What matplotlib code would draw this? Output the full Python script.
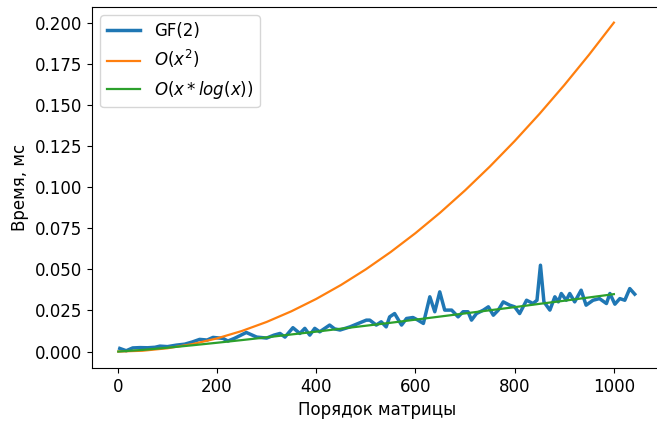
import matplotlib
matplotlib.use("Agg")
import matplotlib.pyplot as plt

# GF(2) measured times (ms) vs matrix order
gf_x = [4, 17, 30, 45, 60, 75, 85, 100, 118, 135, 150, 165, 180, 192, 212, 222, 235,
        259, 280, 300, 315, 327, 337, 353, 367, 377, 387, 397, 407, 427, 437, 448, 468,
        488, 501, 508, 521, 531, 541, 548, 558, 572, 582, 595, 605, 616, 629, 639, 649,
        659, 673, 686, 696, 706, 713, 723, 737, 747, 757, 767, 777, 790, 800, 810, 824,
        837, 845, 852, 859, 871, 881, 888, 894, 904, 911, 921, 934, 944, 958, 971, 985,
        992, 1002, 1012, 1022, 1032, 1042]
gf_y = [0.0019, 0.0005, 0.0022, 0.0024, 0.0023, 0.0026, 0.0033, 0.0030, 0.0039, 0.0045,
        0.0058, 0.0074, 0.0070, 0.0086, 0.0080, 0.0064, 0.0080, 0.0116, 0.0088, 0.0082,
        0.0100, 0.0110, 0.0088, 0.0145, 0.0110, 0.0141, 0.0100, 0.0141, 0.0120, 0.0161,
        0.0138, 0.0131, 0.0150, 0.0175, 0.0191, 0.0191, 0.0161, 0.0181, 0.0150, 0.0211,
        0.0231, 0.0161, 0.0201, 0.0207, 0.0191, 0.0171, 0.0333, 0.0242, 0.0363, 0.0252,
        0.0252, 0.0211, 0.0242, 0.0242, 0.0191, 0.0231, 0.0252, 0.0272, 0.0221, 0.0252,
        0.0302, 0.0282, 0.0272, 0.0231, 0.0312, 0.0292, 0.0312, 0.0525, 0.0302, 0.0252,
        0.0333, 0.0302, 0.0353, 0.0312, 0.0353, 0.0302, 0.0373, 0.0282, 0.0312, 0.0322,
        0.0292, 0.0353, 0.0288, 0.0322, 0.0312, 0.0383, 0.0349]

# Reference curves
ref_x = [1, 50, 100, 150, 200, 250, 300, 350, 400, 450, 500, 550, 600, 650, 700, 750,
         800, 850, 900, 950, 1000]
sq_y = [0.0, 0.0005, 0.002, 0.0045, 0.008, 0.0125, 0.018, 0.0245, 0.032, 0.0405, 0.05,
        0.0605, 0.072, 0.0845, 0.098, 0.1125, 0.128, 0.1445, 0.162, 0.1805, 0.2]
nlog_y = [0.0, 0.00099, 0.00233, 0.0038, 0.00535, 0.00697, 0.00864, 0.0104, 0.0121,
          0.0139, 0.0157, 0.0175, 0.0194, 0.0213, 0.0232, 0.0251, 0.0270, 0.0290,
          0.0309, 0.0329, 0.0349]

labels = ["GF(2)", "$O(x^2)$", "$O(x*log(x))$"]
yticks = [0.0, 0.025, 0.05, 0.075, 0.1, 0.125, 0.15, 0.175, 0.2]

plt.rcParams['font.family'] = ['DejaVu Sans']
plt.rcParams['font.size'] = 12

fig = plt.figure(figsize=(6.57, 4.22), dpi=100)
# axes right edge lies just beyond the figure (reference is cropped there)
ax = fig.add_axes([92 / 657, 54 / 422, 570 / 657, 361 / 422])

ax.plot(gf_x, gf_y, color='#1f77b4', lw=2.5, label=labels[0])
ax.plot(ref_x, sq_y, color='#ff7f0e', lw=1.6, label=labels[1])
ax.plot(ref_x, nlog_y, color='#2ca02c', lw=1.6, label=labels[2])

ax.set_xlim(-52, 1097)
ax.set_ylim(-0.0100, 0.2095)
ax.set_xticks([0, 200, 400, 600, 800, 1000])
ax.set_yticks(yticks)
ax.set_yticklabels([f"{v:.3f}" for v in yticks])
ax.set_xlabel("Порядок матрицы")
ax.set_ylabel("Время, мс")
ax.legend(loc='upper left')

fig.savefig("out.png", dpi=100)
